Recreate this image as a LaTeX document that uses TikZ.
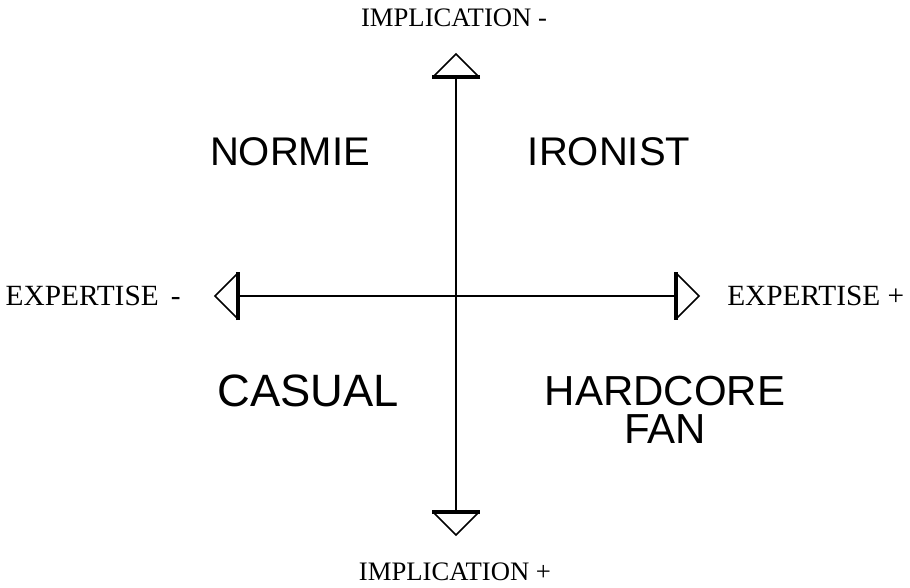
\documentclass[tikz,border=0pt]{standalone}
\usepackage{fontspec}
\setmainfont{Liberation Serif}
\setsansfont{Liberation Sans}
\usetikzlibrary{calc}
\tikzset{
  axline/.style={line width=1.5pt},
  tipbar/.style={line width=3pt},
  tipside/.style={draw,fill=white,line width=1.1pt,line join=miter},
  quad/.style={font=\sffamily\fontsize{30}{28.5}\selectfont,align=center,inner sep=0},
  axlbl/.style={font=\fontsize{20}{20}\selectfont,inner sep=0},
}
\begin{document}
\begin{tikzpicture}[x=0.75pt,y=-0.75pt]
  \useasboundingbox (0,0) rectangle (910,587);
  % axis ends
  \coordinate (top) at (456,77);
  \coordinate (bot) at (456,512);
  \coordinate (lft) at (238,296);
  \coordinate (rgt) at (676,296);
  \draw[axline] (top) -- (bot);
  \draw[axline] (lft) -- (rgt);
  % open tips with a bar
  \foreach \c/\dx/\dy in {top/0/-1, bot/0/1, lft/-1/0, rgt/1/0} {
    \draw[tipside] ($(\c)+(-23*\dy,-23*\dx)$) -- ($(\c)+(23*\dx,23*\dy)$) -- ($(\c)+(23*\dy,23*\dx)$);
    \draw[tipbar] ($(\c)+(-24*\dy,-24*\dx)$) -- ($(\c)+(24*\dy,24*\dx)$);
  }
  % axis labels
  \node[axlbl] (implm) at (454,18) {IMPLICATION -};
  \node[axlbl] (implp) at (455,572) {IMPLICATION +};
  \node[axlbl,font=\fontsize{22}{22}\selectfont,anchor=east] (expm) at (181,296) {EXPERTISE \,-};
  \node[axlbl,font=\fontsize{22}{22}\selectfont,anchor=west] (expp) at (727,296) {EXPERTISE +};
  % quadrants
  \node[quad] (normie) at (290,152) {NORMIE};
  \node[quad] (ironist) at (609,152) {IRONIST};
  \node[quad,font=\sffamily\fontsize{34}{34}\selectfont] (casual) at (308,391) {CASUAL};
  \node[quad,font=\sffamily\fontsize{31.5}{28.5}\selectfont] (hardcore) at (665,410) {HARDCORE\\FAN};
\end{tikzpicture}
\end{document}
